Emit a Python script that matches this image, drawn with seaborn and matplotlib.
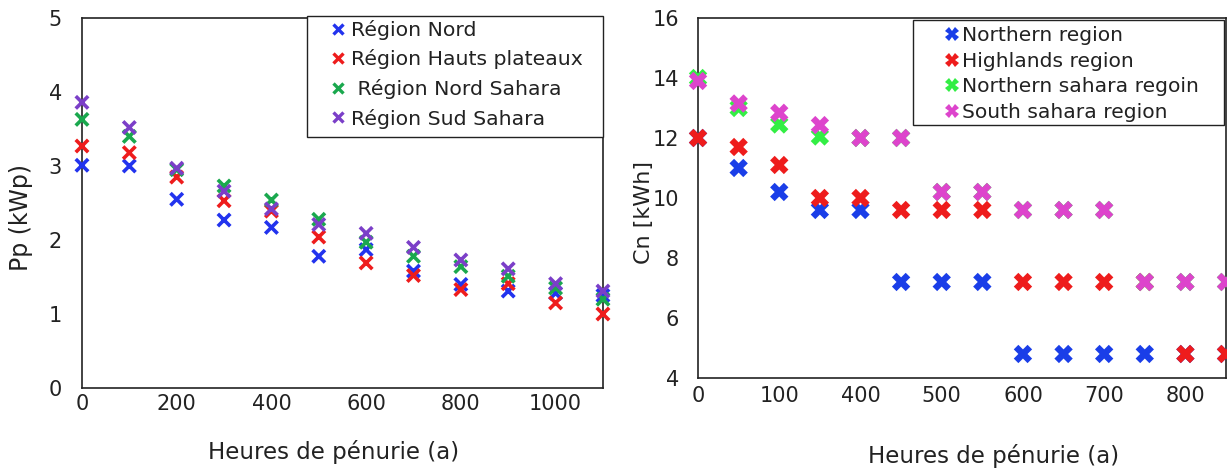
import matplotlib
matplotlib.use("Agg")
import matplotlib.pyplot as plt
from matplotlib.lines import Line2D
from matplotlib.patches import Rectangle
import seaborn as sns
import pandas as pd

# ---------------- data ----------------
hours_left = [0, 100, 200, 300, 400, 500, 600, 700, 800, 900, 1000, 1100]
pp_nord = [3.01, 3.00, 2.55, 2.27, 2.17, 1.78, 1.87, 1.58, 1.40, 1.31, 1.28, 1.25]
pp_hauts = [3.27, 3.18, 2.85, 2.53, 2.39, 2.04, 1.69, 1.52, 1.33, 1.41, 1.15, 1.00]
pp_nord_sahara = [3.63, 3.40, 2.95, 2.73, 2.54, 2.28, 1.97, 1.78, 1.64, 1.51, 1.35, 1.20]
pp_sud_sahara = [3.86, 3.52, 2.97, 2.66, 2.42, 2.21, 2.09, 1.90, 1.73, 1.61, 1.41, 1.31]
left_labels = ["Région Nord", "Région Hauts plateaux", " Région Nord Sahara", "Région Sud Sahara"]

hours_right = [0, 50, 100, 150, 200, 250, 300, 350, 400, 450, 500, 550, 600, 650]
cn_northern = [12.0, 11.0, 10.2, 9.6, 9.6, 7.2, 7.2, 7.2, 4.8, 4.8, 4.8, 4.8, 4.8, 4.8]
cn_highlands = [12.0, 11.7, 11.1, 10.0, 10.0, 9.6, 9.6, 9.6, 7.2, 7.2, 7.2, 7.2, 4.8, 4.8]
cn_north_sahara = [14.0, 13.0, 12.45, 12.05, 12.0, 12.0, 10.2, 10.2, 9.6, 9.6, 9.6, 7.2, 7.2, 7.2]
cn_south_sahara = [13.9, 13.15, 12.84, 12.43, 12.0, 12.0, 10.2, 10.2, 9.6, 9.6, 9.6, 7.2, 7.2, 7.2]
right_labels = ["Northern region", "Highlands region", "Northern sahara regoin", "South sahara region"]
right_tick_values = [0, 100, 200, 300, 400, 500, 600]
right_tick_labels = ["0", "100", "400", "500", "600", "700", "800"]

left_colors = ["#2233ee", "#ee1c1c", "#1aa84e", "#7b3fc8"]
right_colors = ["#1a3ee8", "#ee1c1c", "#33ee44", "#dd44cc"]

# ---------------- frames ----------------
df_left = pd.concat([
    pd.DataFrame({"h": hours_left, "v": vals, "s": lab})
    for vals, lab in zip([pp_nord, pp_hauts, pp_nord_sahara, pp_sud_sahara], left_labels)
])
df_right = pd.concat([
    pd.DataFrame({"h": hours_right, "v": vals, "s": lab})
    for vals, lab in zip([cn_northern, cn_highlands, cn_north_sahara, cn_south_sahara], right_labels)
])

sns.set_theme(style="white")
plt.rcParams["font.family"] = ["DejaVu Sans"]
INK = "#222222"

fig = plt.figure(figsize=(12.27, 4.71), dpi=100)
axL = fig.add_axes([0.0668, 0.1762, 0.4246, 0.7856])
axR = fig.add_axes([0.5689, 0.1975, 0.4303, 0.7643])

sns.scatterplot(data=df_left, x="h", y="v", hue="s", palette=left_colors,
                marker="x", s=80, linewidth=2.6, ax=axL, clip_on=False,
                zorder=3, legend=False)
sns.scatterplot(data=df_right, x="h", y="v", hue="s", palette=right_colors,
                marker="X", s=175, linewidth=0, ax=axR, clip_on=False,
                zorder=3, legend=False)

for ax in (axL, axR):
    for sp in ax.spines.values():
        sp.set_visible(True)
        sp.set_color(INK)
        sp.set_linewidth(1.2)
    ax.tick_params(direction="in", length=6, width=1, colors=INK,
                   labelcolor=INK, labelsize=15)
    ax.set_facecolor("white")

axL.set_xlim(0, 1100)
axL.set_ylim(0, 5)
axL.set_xticks([0, 200, 400, 600, 800, 1000])
axL.set_yticks([0, 1, 2, 3, 4, 5])
axL.tick_params(axis="y", pad=14.4)
axL.tick_params(axis="x", pad=4)
axL.set_xlabel("Heures de pénurie (a)", fontsize=16.5, color=INK)
axL.set_ylabel("Pp (kWp)", fontsize=17, color=INK)
axL.xaxis.set_label_coords(0.482, -0.1405)
axL.yaxis.set_label_coords(-0.094, 0.462)

axR.set_xlim(0, 650)
axR.set_ylim(4, 16)
axR.set_xticks(right_tick_values)
axR.set_xticklabels(right_tick_labels)
axR.set_yticks([4, 6, 8, 10, 12, 14, 16])
axR.tick_params(axis="y", pad=13.7)
axR.tick_params(axis="x", pad=5.8)
axR.set_xlabel("Heures de pénurie (a)", fontsize=16.5, color=INK)
axR.set_ylabel("Cn [kWh]", fontsize=16, color=INK)
axR.xaxis.set_label_coords(0.559, -0.183)
axR.yaxis.set_label_coords(-0.083, 0.461)

# ---------------- legends ----------------
def make_handles(colors, marker, ms, mew):
    return [Line2D([], [], ls="", marker=marker, color=c, markersize=ms,
                   markeredgewidth=mew) for c in colors]

axL.add_patch(Rectangle((0.432, 0.678), 0.568, 0.327, transform=axL.transAxes,
                        facecolor="white", edgecolor=INK, linewidth=1.0,
                        clip_on=False, zorder=5))
legL = axL.legend(make_handles(left_colors, "x", 7, 2.4), left_labels,
                  loc="upper left", bbox_to_anchor=(0.478, 0.995),
                  fontsize=14.7, frameon=False, handlelength=0.7,
                  handletextpad=0.28, labelspacing=0.47, borderpad=0,
                  borderaxespad=0)
legL.set_zorder(6)
for t in legL.get_texts():
    t.set_color(INK)

axR.add_patch(Rectangle((0.4072, 0.7028), 0.589, 0.2925, transform=axR.transAxes,
                        facecolor="white", edgecolor=INK, linewidth=1.0,
                        clip_on=False, zorder=5))
legR = axR.legend(make_handles(right_colors, "X", 10, 0), right_labels,
                  loc="upper left", bbox_to_anchor=(0.4686, 0.978),
                  fontsize=14.6, frameon=False, handlelength=0.6,
                  handletextpad=0.24, labelspacing=0.33, borderpad=0,
                  borderaxespad=0)
legR.set_zorder(6)
for t in legR.get_texts():
    t.set_color(INK)

fig.savefig("out.png", dpi=100, facecolor="white")
